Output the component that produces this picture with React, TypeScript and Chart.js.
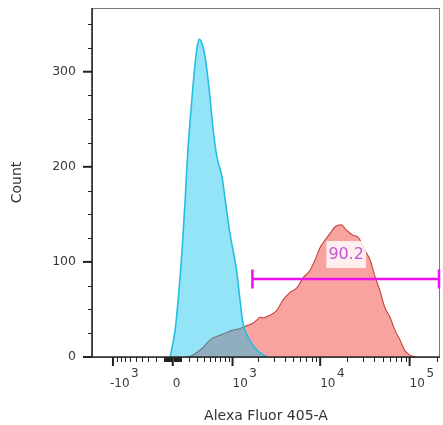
import React, { useEffect, useRef } from "react";
import { Chart, registerables } from "chart.js";

Chart.register(...registerables);

// Biexponential-like display transform (arcsinh), width parameter
const BIEX_WIDTH = 450;
const biex = (v: number) => Math.asinh(v / BIEX_WIDTH);

// Axis range in fluorescence units
const axisMinIntensity = -1770;
const axisMaxIntensity = 218600;

// Unstained control (blue)
const blueIntensity = [-30, 27, 63, 109, 146, 180, 220, 259, 300, 329, 370, 419, 501, 557, 631, 738, 811, 928, 1107, 1230, 1338, 1533, 1945, 2536];
const blueCount = [0, 28, 60, 112, 165, 218, 260, 297, 325, 334, 330, 316, 273, 239, 210, 189, 165, 130, 94, 60, 35, 21, 7, 0];

// Stained sample (red)
const redIntensity = [170, 245, 389, 501, 698, 857, 981, 1230, 1488, 1701, 1945, 2111, 2273, 2723, 3267, 3834, 4599, 5514, 6407, 7678, 8744, 9953, 11336, 12910, 14704, 17083, 19848, 23306, 26545, 31776, 36180, 41198, 46450, 52875, 60228, 68600, 78134, 88200, 100370, 120460];
const redCount = [0, 2, 10, 18, 23, 26, 28, 30, 33, 35, 39, 42, 41, 44, 49, 60, 68, 73, 83, 91, 102, 115, 123, 130, 137, 139, 133, 128, 126, 112, 102, 84, 70, 52, 42, 28, 18, 7, 2, 0];

// Gate
const gateFrom = 1720;
const gateTo = 262000;
const gateCount = 82;
const gateLabel = "90.2";

// X ticks
const xMajorTicks = [-1000, 0, 1000, 10000, 100000];
const xTickBase = ["-10", "0", "10", "10", "10"];
const xTickExp = ["3", "", "3", "4", "5"];
const xMinorTicks: number[] = [];
for (const d of [10, 100]) for (let m = 1; m <= 9; m++) xMinorTicks.push(-m * d);
for (const d of [10, 100, 1000, 10000, 100000]) for (let m = 1; m <= 9; m++) if (!(m === 1 && d >= 1000)) xMinorTicks.push(m * d);

// Y ticks
const yMax = 367;
const yMajorTicks = [0, 100, 200, 300];
const yMinorTicks = [25, 50, 75, 125, 150, 175, 225, 250, 275, 325, 350];

const xTitle = "Alexa Fluor 405-A";
const yTitle = "Count";

const decorPlugin = {
  id: "flowDecor",
  afterDatasetsDraw(chart: any) {
    const { ctx, chartArea: a, scales } = chart;
    const xs = scales.x;
    const ys = scales.y;
    ctx.save();

    // frame
    ctx.strokeStyle = "#7a7a7a";
    ctx.lineWidth = 1;
    ctx.strokeRect(a.left + 0.5, a.top + 0.5, a.right - a.left - 1, a.bottom - a.top);
    ctx.strokeStyle = "#2a2a2a";
    ctx.lineWidth = 1.6;
    ctx.beginPath();
    ctx.moveTo(a.left, a.top);
    ctx.lineTo(a.left, a.bottom);
    ctx.lineTo(a.right, a.bottom);
    ctx.stroke();

    // gate
    const gy = ys.getPixelForValue(gateCount);
    const gx1 = xs.getPixelForValue(biex(gateFrom));
    const gx2 = Math.min(xs.getPixelForValue(biex(gateTo)), a.right);
    ctx.strokeStyle = "#ee10ee";
    ctx.lineWidth = 2.5;
    ctx.beginPath();
    ctx.moveTo(gx1, gy);
    ctx.lineTo(gx2, gy);
    ctx.moveTo(gx1, gy - 9.5);
    ctx.lineTo(gx1, gy + 9.5);
    ctx.moveTo(gx2 - 1, gy - 9.5);
    ctx.lineTo(gx2 - 1, gy + 9.5);
    ctx.stroke();

    // gate label
    const mid = (gx1 + gx2) / 2;
    const ly = gy - 25;
    ctx.font = '16px "DejaVu Sans"';
    const tw = ctx.measureText(gateLabel).width;
    ctx.fillStyle = "rgba(255,255,255,0.82)";
    ctx.fillRect(mid - tw / 2 - 2, ly - 13, tw + 4, 27);
    ctx.fillStyle = "#c455d6";
    ctx.textAlign = "center";
    ctx.textBaseline = "middle";
    ctx.fillText(gateLabel, mid, ly + 1);

    // x ticks
    ctx.strokeStyle = "#222";
    ctx.lineWidth = 1;
    for (const v of xMinorTicks) {
      const px = xs.getPixelForValue(biex(v));
      if (px < a.left || px > a.right) continue;
      ctx.beginPath();
      ctx.moveTo(Math.round(px) + 0.5, a.bottom);
      ctx.lineTo(Math.round(px) + 0.5, a.bottom + 5);
      ctx.stroke();
    }
    ctx.lineWidth = 2;
    for (const v of xMajorTicks) {
      const px = xs.getPixelForValue(biex(v));
      ctx.beginPath();
      ctx.moveTo(px, a.bottom);
      ctx.lineTo(px, a.bottom + 9);
      ctx.stroke();
    }
    ctx.fillStyle = "#3a3a3a";
    ctx.textAlign = "left";
    ctx.textBaseline = "alphabetic";
    xMajorTicks.forEach((v, i) => {
      const px = xs.getPixelForValue(biex(v));
      ctx.font = '12px "DejaVu Sans"';
      const bx = i === 0 ? px - 3 : px;
      ctx.fillText(xTickBase[i], bx, a.bottom + 30);
      if (xTickExp[i]) {
        const w = ctx.measureText(xTickBase[i]).width;
        ctx.font = '12px "DejaVu Sans"';
        ctx.fillText(xTickExp[i], bx + w + 1.5, a.bottom + 20);
      }
    });

    // y ticks
    ctx.lineWidth = 1;
    for (const v of yMinorTicks) {
      const py = Math.round(ys.getPixelForValue(v)) + 0.5;
      ctx.beginPath();
      ctx.moveTo(a.left - 4, py);
      ctx.lineTo(a.left, py);
      ctx.stroke();
    }
    ctx.lineWidth = 2;
    ctx.font = '12.5px "DejaVu Sans"';
    ctx.textAlign = "right";
    ctx.textBaseline = "middle";
    for (const v of yMajorTicks) {
      const py = ys.getPixelForValue(v);
      ctx.beginPath();
      ctx.moveTo(a.left - 9, py);
      ctx.lineTo(a.left, py);
      ctx.stroke();
      ctx.fillText(String(v), a.left - 16, py);
    }

    // titles
    ctx.fillStyle = "#333";
    ctx.font = '14px "DejaVu Sans"';
    ctx.textAlign = "center";
    ctx.textBaseline = "middle";
    ctx.fillText(xTitle, (a.left + a.right) / 2, 416);
    ctx.save();
    ctx.translate(17, (a.top + a.bottom) / 2);
    ctx.rotate(-Math.PI / 2);
    ctx.fillText(yTitle, 0, 0);
    ctx.restore();

    ctx.restore();
  },
};

export default function App() {
  const ref = useRef<HTMLCanvasElement | null>(null);

  useEffect(() => {
    document.body.style.margin = "0";
    const canvas = ref.current;
    if (!canvas) return;
    const chart = new Chart(canvas, {
      type: "line",
      data: {
        datasets: [
          {
            label: "Unstained",
            data: blueIntensity.map((v, i) => ({ x: biex(v), y: blueCount[i] })),
            borderColor: "#25bee2",
            backgroundColor: "rgba(0,190,235,0.42)",
            fill: "origin",
            borderWidth: 1.6,
            pointRadius: 0,
            tension: 0.3,
            cubicInterpolationMode: "monotone",
          },
          {
            label: "Stained",
            data: redIntensity.map((v, i) => ({ x: biex(v), y: redCount[i] })),
            borderColor: "#c4453c",
            backgroundColor: "rgba(242,72,66,0.5)",
            fill: "origin",
            borderWidth: 1.1,
            pointRadius: 0,
            tension: 0.2,
            cubicInterpolationMode: "monotone",
          },
        ],
      },
      options: {
        animation: false,
        responsive: false,
        devicePixelRatio: 1,
        layout: { padding: { left: 92, right: 3, top: 8, bottom: 68 } },
        plugins: { legend: { display: false }, tooltip: { enabled: false } },
        scales: {
          x: { type: "linear", display: false, min: biex(axisMinIntensity), max: biex(axisMaxIntensity) },
          y: { type: "linear", display: false, min: 0, max: yMax },
        },
      },
      plugins: [decorPlugin],
    } as any);
    return () => chart.destroy();
  }, []);

  return (
    <div style={{ width: 443, height: 425, background: "#fff" }}>
      <canvas ref={ref} width={443} height={425} />
    </div>
  );
}
